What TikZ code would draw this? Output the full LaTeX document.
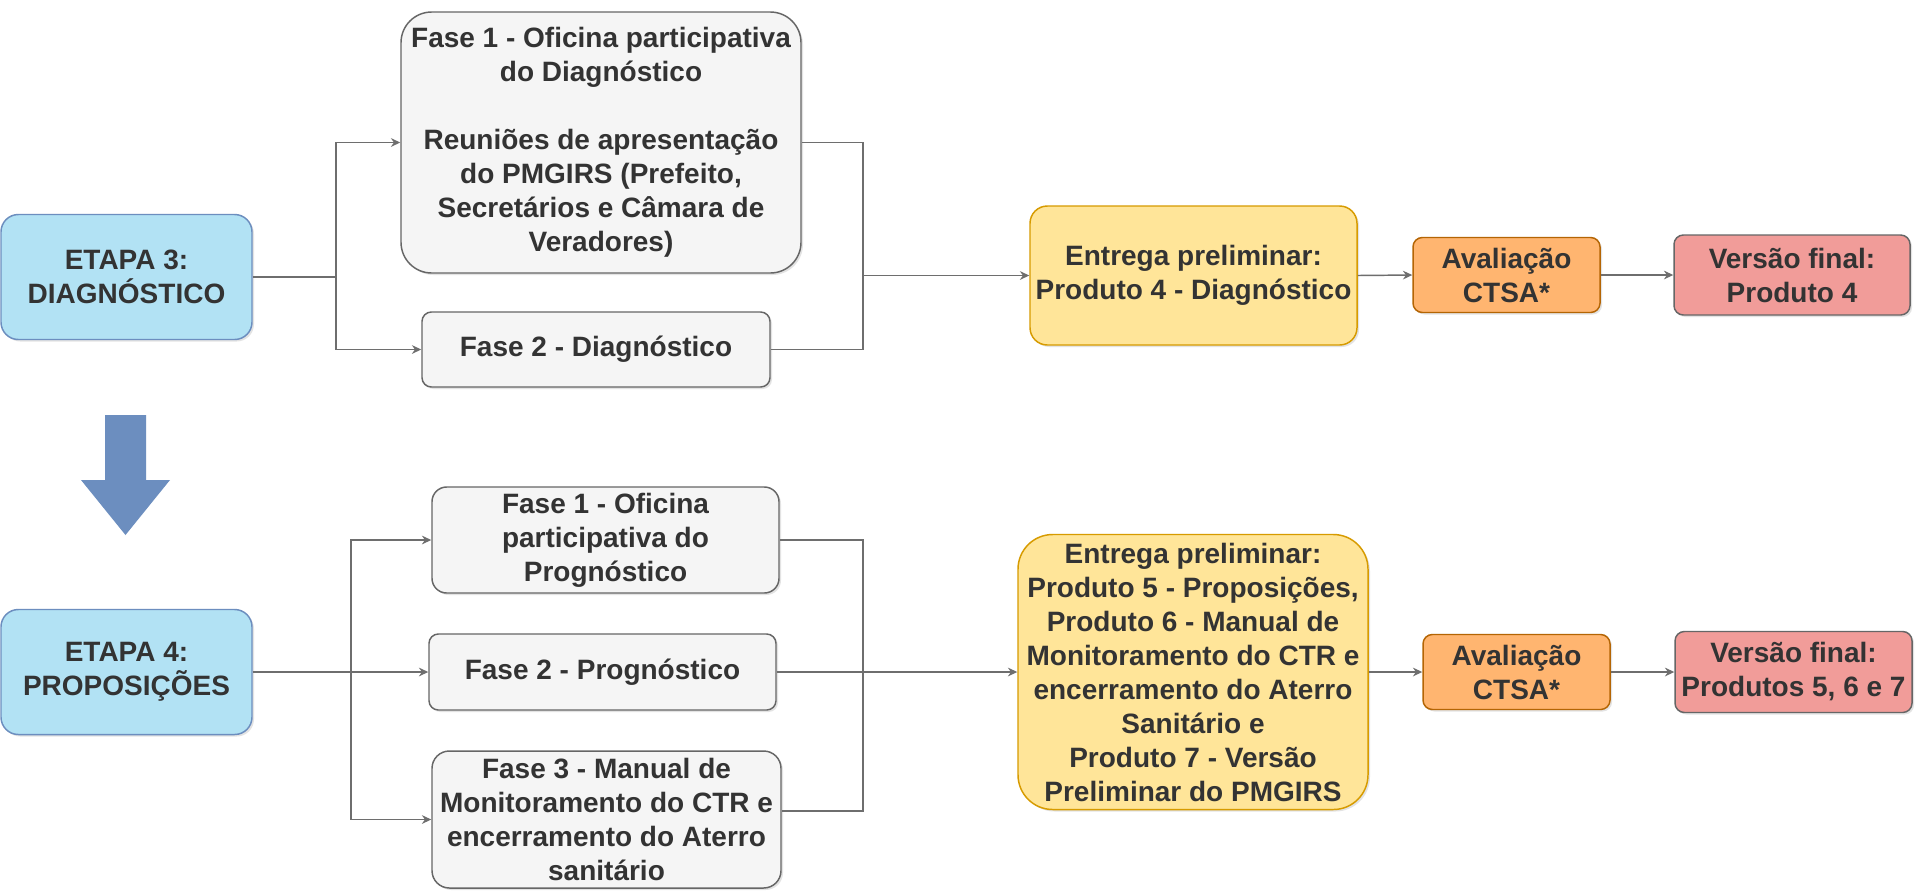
\documentclass[tikz,border=0pt]{standalone}
\usepackage{fontspec}
\setmainfont{Liberation Sans}
\usetikzlibrary{arrows.meta,shadows}
\newdimen\pu
\pu=0.75pt
\definecolor{txt}{HTML}{333333}
\definecolor{blueF}{HTML}{B2E2F4}
\definecolor{blueD}{HTML}{6C8EBF}
\definecolor{grayF}{HTML}{F5F5F5}
\definecolor{grayD}{HTML}{666666}
\definecolor{yelF}{HTML}{FFE599}
\definecolor{yelD}{HTML}{D79B00}
\definecolor{orF}{HTML}{FFB570}
\definecolor{orD}{HTML}{B46504}
\definecolor{redF}{HTML}{F19C99}
\definecolor{lineC}{HTML}{6E6E6E}
\tikzset{
  base/.style={draw, line width=1.1pt, align=center, inner sep=0pt, text=txt,
    font=\fontsize{21}{25.5}\selectfont\bfseries,
    drop shadow={shadow xshift=1.5pt, shadow yshift=-1.5pt, opacity=0.22}},
  etapa/.style={base, fill=blueF, draw=blueD, rounded corners=13pt},
  fase/.style={base, fill=grayF, draw=grayD, rounded corners=7pt},
  entrega/.style={base, fill=yelF, draw=yelD},
  aval/.style={base, fill=orF, draw=orD, rounded corners=7pt},
  final/.style={base, fill=redF, draw=grayD, rounded corners=7pt},
  conn/.style={draw=lineC, line width=1.1pt},
  arr/.style={conn, -{Stealth[length=7pt,width=6.5pt]}},
}
\begin{document}
\begin{tikzpicture}[x=0.75pt,y=-0.75pt]
\useasboundingbox (0,0) rectangle (1915,890);
\fill[white] (0,0) rectangle (1915,890);

% ---- top row ----
\node[etapa, minimum width=251\pu, minimum height=125\pu] (e3) at (126.5,277) {ETAPA 3:\\DIAGNÓSTICO};
\node[fase, rounded corners=23pt, minimum width=400\pu, minimum height=261\pu] (f1) at (601,142.5)
  {Fase 1 - Oficina participativa\\do Diagnóstico\\[25.5pt]Reuniões de apresentação\\do PMGIRS (Prefeito,\\Secretários e Câmara de\\Veradores)};
\node[fase, minimum width=348\pu, minimum height=75\pu] (f2) at (596,349.5) {Fase 2 - Diagnóstico};
\node[entrega, rounded corners=13pt, minimum width=327\pu, minimum height=139\pu] (ent1) at (1193.5,275.5)
  {Entrega preliminar:\\Produto 4 - Diagnóstico};
\node[aval, minimum width=187\pu, minimum height=75\pu] (av1) at (1506.5,275) {Avaliação\\CTSA*};
\node[final, minimum width=236\pu, minimum height=80\pu] (vf1) at (1792,275) {Versão final:\\Produto 4};

\coordinate (j1) at (336,277);
\coordinate (k1) at (863,275.5);
\draw[conn] (e3.east) -- (j1);
\draw[arr] (j1) |- (f1.west);
\draw[arr] (j1) |- (f2.west);
\draw[conn] (f1.east) -| (k1);
\draw[conn] (f2.east) -| (k1);
\draw[arr] (k1) -- (ent1.west);
\draw[arr] (ent1.east) -- (av1.west);
\draw[arr] (av1.east) -- (vf1.west);

% ---- big down arrow ----
\fill[blueD] (105,415) -- (146,415) -- (146,480) -- (170,480) -- (125.5,535) -- (81,480) -- (105,480) -- cycle;

% ---- bottom row ----
\node[etapa, minimum width=251\pu, minimum height=125\pu] (e4) at (126.5,672) {ETAPA 4:\\PROPOSIÇÕES};
\node[fase, rounded corners=11pt, minimum width=347\pu, minimum height=106\pu] (f1b) at (605.5,540)
  {Fase 1 - Oficina\\participativa do\\Prognóstico};
\node[fase, minimum width=347\pu, minimum height=76\pu] (f2b) at (602.5,672) {Fase 2 - Prognóstico};
\node[fase, rounded corners=13pt, minimum width=349\pu, minimum height=137\pu] (f3b) at (606.5,819.5)
  {Fase 3 - Manual de\\Monitoramento do CTR e\\encerramento do Aterro\\sanitário};
\node[entrega, rounded corners=26pt, minimum width=350\pu, minimum height=275\pu] (ent2) at (1193,672)
  {Entrega preliminar:\\Produto 5 - Proposições,\\Produto 6 - Manual de\\Monitoramento do CTR e\\encerramento do Aterro\\Sanitário e\\Produto 7 - Versão\\Preliminar do PMGIRS};
\node[aval, minimum width=187\pu, minimum height=75\pu] (av2) at (1516.5,672) {Avaliação\\CTSA*};
\node[final, minimum width=237\pu, minimum height=81\pu] (vf2) at (1793.5,672) {Versão final:\\Produtos 5, 6 e 7};

\coordinate (j2) at (351,672);
\coordinate (k2) at (863,811);
\draw[conn] (e4.east) -- (j2);
\draw[arr] (j2) |- (f1b.west);
\draw[arr] (j2) -- (f2b.west);
\draw[arr] (j2) |- (f3b.west);
\draw[conn] (f1b.east) -| (k2) -- (f3b.east |- k2);
\draw[arr] (f2b.east) -- (ent2.west);
\draw[arr] (ent2.east) -- (av2.west);
\draw[arr] (av2.east) -- (vf2.west);
\end{tikzpicture}
\end{document}
